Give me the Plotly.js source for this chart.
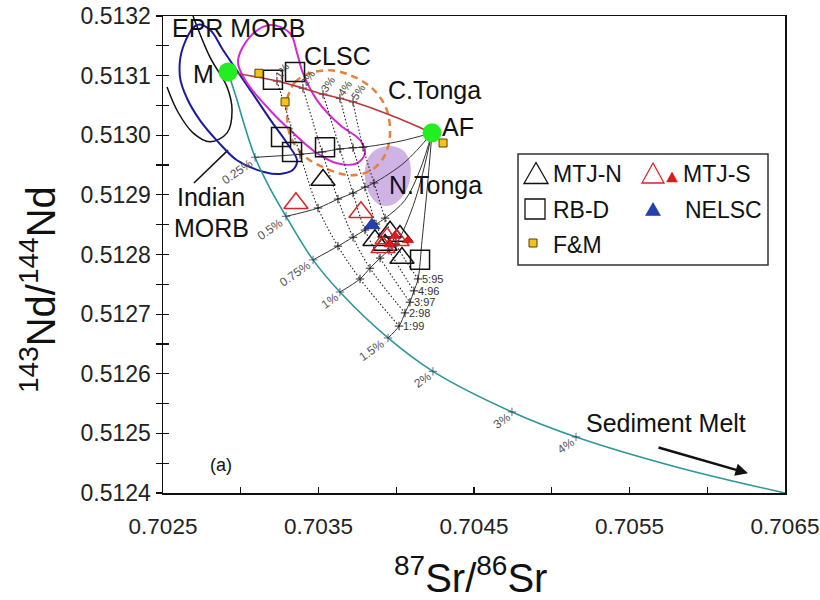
<!DOCTYPE html>
<html><head><meta charset="utf-8">
<script src="https://cdn.plot.ly/plotly-3.0.1.min.js"></script>
<style>body{margin:0;background:#fff}#chart{width:820px;height:600px}</style>
</head><body><div id="chart"></div>
<script>
// ---------------- data ----------------
const endMemberX = [0.702918, 0.704230];
const endMemberY = [0.513106, 0.513004];

// M + sediment melt mixing curve
const sedX = [0.702918, 0.702976, 0.703014, 0.703092, 0.703188, 0.703291, 0.703465, 0.703638, 0.703947, 0.704236, 0.704744, 0.705156, 0.705825, 0.7065];
const sedY = [0.513106, 0.513059, 0.513025, 0.512963, 0.512911, 0.512864, 0.512791, 0.512737, 0.512660, 0.512604, 0.512536, 0.512494, 0.512442, 0.5124];
const sedLabels = ['', '', '', '0.25%', '', '0.5%', '0.75%', '1%', '1.5%', '2%', '3%', '4%', '', ''];

// M - AF mixing line
const mafX = [0.702918, 0.703233, 0.703400, 0.703529, 0.703638, 0.703722, 0.703960, 0.704230];
const mafY = [0.513106, 0.513091, 0.513079, 0.513069, 0.513062, 0.513056, 0.513034, 0.513004];

// (M + x% melt) - AF mixing lines
const mix025X = [0.703092, 0.703381, 0.703523, 0.703638, 0.703722, 0.703786, 0.704024, 0.704230];
const mix025Y = [0.512963, 0.512968, 0.512972, 0.512977, 0.512979, 0.512980, 0.512990, 0.513004];
const mix05X = [0.703291, 0.703497, 0.703625, 0.703722, 0.703799, 0.703857, 0.704056, 0.704230];
const mix05Y = [0.512864, 0.512878, 0.512893, 0.512903, 0.512913, 0.512920, 0.512955, 0.513004];
const mix075X = [0.703465, 0.703625, 0.703722, 0.703799, 0.703870, 0.703928, 0.704056, 0.704153, 0.704230];
const mix075Y = [0.512791, 0.512814, 0.512829, 0.512841, 0.512851, 0.512861, 0.512891, 0.512942, 0.513004];
const mix1X = [0.703638, 0.703767, 0.703831, 0.703896, 0.703953, 0.703998, 0.704121, 0.704230];
const mix1Y = [0.512737, 0.512759, 0.512777, 0.512794, 0.512807, 0.512817, 0.512891, 0.513004];
const mix15X = [0.703947, 0.704018, 0.704056, 0.704088, 0.704114, 0.704140, 0.704166, 0.704198, 0.704230];
const mix15Y = [0.512660, 0.512680, 0.512702, 0.512720, 0.512739, 0.512759, 0.512824, 0.512908, 0.513004];

// constant-AF-fraction curves (1% .. 5%)
const af1X = [0.703233, 0.703381, 0.703497, 0.703625, 0.703767, 0.704018];
const af1Y = [0.513091, 0.512968, 0.512878, 0.512814, 0.512759, 0.512680];
const af2X = [0.703400, 0.703523, 0.703625, 0.703722, 0.703831, 0.704056];
const af2Y = [0.513079, 0.512972, 0.512893, 0.512829, 0.512777, 0.512702];
const af3X = [0.703529, 0.703638, 0.703722, 0.703799, 0.703896, 0.704088];
const af3Y = [0.513069, 0.512977, 0.512903, 0.512841, 0.512794, 0.512720];
const af4X = [0.703638, 0.703722, 0.703799, 0.703870, 0.703953, 0.704114];
const af4Y = [0.513062, 0.512979, 0.512913, 0.512851, 0.512807, 0.512739];
const af5X = [0.703722, 0.703786, 0.703857, 0.703928, 0.703998, 0.704140];
const af5Y = [0.513056, 0.512980, 0.512920, 0.512861, 0.512817, 0.512759];
const afTopLabels = ['1%', '2%', '3%', '4%', '5%'];
const ratioLabels = ['1:99', '2:98', '3:97', '4:96', '5:95'];

// samples
const mtjNX = [0.703529, 0.703863, 0.703960, 0.704024, 0.703928, 0.704037];
const mtjNY = [0.512925, 0.512824, 0.512838, 0.512831, 0.512816, 0.512794];
const mtjSOpenX = [0.703355, 0.703773, 0.703941, 0.703915, 0.704005];
const mtjSOpenY = [0.512886, 0.512871, 0.512827, 0.512812, 0.512824];
const mtjSFillX = [0.703992, 0.704076, 0.703960];
const mtjSFillY = [0.512831, 0.512824, 0.512817];
const nelscX = [0.703844];
const nelscY = [0.512849];
const rbdX = [0.703207, 0.703349, 0.703259, 0.703330, 0.703542, 0.704153];
const rbdY = [0.513093, 0.513106, 0.512997, 0.512972, 0.512980, 0.512791];
const fmX = [0.703117, 0.703285, 0.704301];
const fmY = [0.513104, 0.513056, 0.512987];

// fields
const eprX = [0.702629, 0.702719, 0.702802, 0.702886, 0.702995, 0.703105, 0.703201, 0.703297, 0.703362, 0.703336, 0.703252, 0.703156, 0.702976, 0.702854, 0.702738, 0.702654, 0.702609, 0.702629];
const eprY = [0.513148, 0.513185, 0.513177, 0.513143, 0.513101, 0.513059, 0.513022, 0.512987, 0.512958, 0.512942, 0.512935, 0.512938, 0.512958, 0.512989, 0.513025, 0.513062, 0.513098, 0.513148];
const indX = [0.702693, 0.702802, 0.702912, 0.702944, 0.702912, 0.702802, 0.702693, 0.702596, 0.702526];
const indY = [0.5132, 0.513131, 0.513081, 0.513042, 0.513004, 0.512989, 0.513004, 0.513039, 0.513081];
const indLeaderX = [0.702918, 0.702699];
const indLeaderY = [0.512975, 0.512920];
const clscX = [0.702982, 0.703059, 0.703188, 0.703317, 0.703362, 0.703400, 0.703490, 0.703638, 0.703767, 0.703799, 0.703748, 0.703619, 0.703490, 0.703336, 0.703188, 0.703040, 0.702982];
const clscY = [0.513123, 0.513165, 0.513185, 0.513171, 0.513138, 0.513104, 0.513059, 0.513017, 0.512992, 0.512970, 0.512953, 0.512953, 0.512970, 0.513004, 0.513042, 0.513088, 0.513123];
const ctongaX = [0.703297, 0.703349, 0.703445, 0.703574, 0.703703, 0.703844, 0.703934, 0.703960, 0.703928, 0.703844, 0.703703, 0.703542, 0.703400, 0.703317, 0.703297, 0.703297];
const ctongaY = [0.513059, 0.513089, 0.513104, 0.513109, 0.513101, 0.513079, 0.513046, 0.513004, 0.512967, 0.512942, 0.512933, 0.512945, 0.512967, 0.513000, 0.513034, 0.513059];
const ntongaX = [0.703812, 0.703863, 0.703960, 0.704043, 0.704088, 0.704088, 0.704043, 0.703973, 0.703896, 0.703831, 0.703799, 0.703812];
const ntongaY = [0.512958, 0.512975, 0.512982, 0.512975, 0.512955, 0.512925, 0.512898, 0.512883, 0.512883, 0.512900, 0.512928, 0.512958];

// ---------------- helpers ----------------
const FONT = 'Liberation Sans, Arial, Helvetica, sans-serif';
const L = 163, R = 785, T = 16, B = 493;
const PX = px => (px - L) / (R - L);
const PY = py => (B - py) / (B - T);

function line(x, y, color, width, dash, shape) {
  return {x, y, mode: 'lines', type: 'scatter', hoverinfo: 'skip', showlegend: false,
    line: {color, width, dash: dash || 'solid', shape: shape || 'linear', smoothing: 1}};
}
function pts(x, y, symbol, size, color, lineColor, lw) {
  return {x, y, mode: 'markers', type: 'scatter', hoverinfo: 'skip', showlegend: false,
    marker: {symbol, size, color, line: {color: lineColor, width: lw}}};
}

const traces = [];
traces.push({x: ntongaX, y: ntongaY, mode: 'lines', fill: 'toself', fillcolor: 'rgba(196,160,222,0.8)',
  line: {width: 0, shape: 'spline', smoothing: 1, color: 'rgba(0,0,0,0)'}, hoverinfo: 'skip', showlegend: false});
traces.push(line(indX, indY, '#111', 1.5, 'solid', 'spline'));
traces.push(line(indLeaderX, indLeaderY, '#111', 1.5));
traces.push(line(eprX, eprY, '#1c1c9a', 2, 'solid', 'spline'));
traces.push(line(clscX, clscY, '#d22ad2', 2, 'solid', 'spline'));
traces.push(line(ctongaX, ctongaY, '#e8803a', 2.5, '7px,5px', 'spline'));

[[mix025X, mix025Y], [mix05X, mix05Y], [mix075X, mix075Y], [mix1X, mix1Y], [mix15X, mix15Y]].forEach(([x, y]) => {
  traces.push(line(x, y, '#333', 1, 'solid', 'spline'));
});
[[af1X, af1Y], [af2X, af2Y], [af3X, af3Y], [af4X, af4Y], [af5X, af5Y]].forEach(([x, y]) => {
  const t = line(x, y, '#222', 1.1, '1.5px,2px', 'spline');
  t.mode = 'lines+markers';
  t.marker = {symbol: 'cross-thin', size: 6, line: {color: '#222', width: 1}};
  traces.push(t);
});
traces.push(line(mafX, mafY, '#b8393c', 1.6, 'solid', 'spline'));
traces.push(line(sedX, sedY, '#2e9696', 1.6, 'solid', 'spline'));
traces.push({x: sedX, y: sedY, mode: 'markers', type: 'scatter', hoverinfo: 'skip', showlegend: false,
  marker: {symbol: 'cross-thin', size: sedLabels.map(s => s ? 6 : 0), line: {color: '#235', width: 1}}});

traces.push(pts(rbdX, rbdY, 'square-open', 19, '#111', '#111', 1.5));
traces.push(pts(mtjNX, mtjNY, 'triangle-up-open', 21, '#111', '#111', 1.5));
traces.push(pts(mtjSOpenX, mtjSOpenY, 'triangle-up-open', 21, '#d6262a', '#d6262a', 1.5));
traces.push(pts(mtjSFillX, mtjSFillY, 'triangle-up', 10, '#e01818', '#a00', 0.5));
traces.push(pts(nelscX, nelscY, 'triangle-up', 14, '#2540b0', '#1a2a80', 0.8));
traces.push(pts(fmX, fmY, 'square', 8, '#f3c21c', '#5a4000', 1));
traces.push(pts(endMemberX, endMemberY, 'circle', 19, '#22ee22', '#22ee22', 0));
traces.push({x: [0.703], y: [0.5128], yaxis: 'y2', mode: 'markers', marker: {opacity: 0}, hoverinfo: 'skip', showlegend: false});

// ---------------- annotations ----------------
const ann = [];
function txt(text, px, py, size, extra) {
  ann.push(Object.assign({text, x: PX(px), y: PY(py), xref: 'paper', yref: 'paper', showarrow: false,
    xanchor: 'center', yanchor: 'middle', font: {family: FONT, size, color: '#111'}}, extra || {}));
}
txt('EPR MORB', 238, 28, 25);
txt('M', 203, 74, 25);
txt('CLSC', 337, 56, 25);
txt('C.Tonga', 434, 90, 25);
txt('AF', 458, 127, 25);
txt('N.Tonga', 435, 185, 25);
txt('Indian', 211, 197, 25);
txt('MORB', 211, 228, 25);
txt('(a)', 221, 465, 18);
txt('Sediment Melt', 666, 423, 25);

sedX.forEach((x, i) => {
  const s = sedLabels[i];
  if (!s) return;
  const w = s.length * 6.5;
  ann.push({text: s, x, y: sedY[i], xref: 'x', yref: 'y', showarrow: false, textangle: -35,
    xshift: -(5 + w / 2 * 0.82), yshift: -(5 + w / 2 * 0.57),
    font: {family: FONT, size: 12, color: '#555'}});
});
[af1X, af2X, af3X, af4X, af5X].forEach((xs, i) => {
  const ys = [af1Y, af2Y, af3Y, af4Y, af5Y][i];
  ann.push({text: afTopLabels[i], x: xs[0], y: ys[0], xref: 'x', yref: 'y', showarrow: false, textangle: -55,
    xshift: 5, yshift: 10, font: {family: FONT, size: 11, color: '#444'}});
  ann.push({text: ratioLabels[i], x: xs[xs.length - 1], y: ys[ys.length - 1], xref: 'x', yref: 'y', showarrow: false,
    xanchor: 'left', xshift: 2, font: {family: FONT, size: 11, color: '#333'}});
});
ann.push({x: 0.706262, y: 0.512433, ax: 0.705677, ay: 0.512477, xref: 'x', yref: 'y', axref: 'x', ayref: 'y',
  text: '', showarrow: true, arrowhead: 2, arrowsize: 1, arrowwidth: 2.5, arrowcolor: '#111'});

ann.push({text: '<sup>143</sup>Nd/<sup>144</sup>Nd', x: PX(38), y: PY(290), xref: 'paper', yref: 'paper',
  showarrow: false, textangle: -90, xanchor: 'center', yanchor: 'middle', font: {family: FONT, size: 40, color: '#111'}});
ann.push({text: '<sup>87</sup>Sr/<sup>86</sup>Sr', x: PX(470), y: PY(575), xref: 'paper', yref: 'paper',
  showarrow: false, xanchor: 'center', yanchor: 'middle', font: {family: FONT, size: 40, color: '#111'}});

// legend (drawn)
const shapes = [];
shapes.push({type: 'rect', xref: 'paper', yref: 'paper', x0: PX(518), x1: PX(768), y0: PY(265), y1: PY(154),
  line: {color: '#333', width: 1.5}, fillcolor: '#fff', layer: 'above'});
function tri(cx, cy, w, h, lc, fc, lw) {
  shapes.push({type: 'path', xref: 'paper', yref: 'paper', layer: 'above',
    path: `M ${PX(cx - w / 2)} ${PY(cy + h / 2)} L ${PX(cx + w / 2)} ${PY(cy + h / 2)} L ${PX(cx)} ${PY(cy - h / 2)} Z`,
    line: {color: lc, width: lw}, fillcolor: fc});
}
function sq(cx, cy, s, lc, fc, lw) {
  shapes.push({type: 'rect', xref: 'paper', yref: 'paper', layer: 'above',
    x0: PX(cx - s / 2), x1: PX(cx + s / 2), y0: PY(cy + s / 2), y1: PY(cy - s / 2),
    line: {color: lc, width: lw}, fillcolor: fc});
}
tri(536, 173, 24, 21, '#111', 'rgba(0,0,0,0)', 1.3);
tri(653, 173, 22, 20, '#d6262a', 'rgba(0,0,0,0)', 1.3);
tri(672, 177, 11, 10, '#e01818', '#e01818', 0.5);
sq(535, 209, 20, '#111', 'rgba(0,0,0,0)', 1.3);
tri(653, 209, 15, 13, '#1a2a80', '#2540b0', 0.5);
sq(533, 243, 8, '#5a4000', '#f3c21c', 1);
function ltxt(text, px, py) {
  ann.push({text, x: PX(px), y: PY(py), xref: 'paper', yref: 'paper', showarrow: false,
    xanchor: 'left', yanchor: 'middle', font: {family: FONT, size: 23, color: '#111'}});
}
ltxt('MTJ-N', 551, 174);
ltxt('MTJ-S', 681, 174);
ltxt('RB-D', 551, 210);
ltxt('NELSC', 683, 210);
ltxt('F&amp;M', 551, 245);

const tickFont = {family: FONT, size: 23, color: '#222'};
const xTickFont = {family: FONT, size: 22.5, color: '#222'};
const layout = {
  width: 820, height: 600,
  margin: {l: L, r: 820 - R, t: T, b: 600 - B},
  paper_bgcolor: '#fff', plot_bgcolor: '#fff',
  showlegend: false,
  xaxis: {range: [0.7025, 0.7065], tick0: 0.7025, dtick: 0.001, tickformat: '.4f', ticks: 'inside', ticklen: 6,
    tickcolor: '#111', tickwidth: 1.2, showgrid: false, zeroline: false, showline: true, mirror: true,
    linecolor: '#111', linewidth: 1.5, tickfont: xTickFont, ticklabelstandoff: 12, ticklabeloverflow: 'allow',
    minor: {tick0: 0.7025, dtick: 0.0005, ticks: 'inside', ticklen: 6, tickcolor: '#111', tickwidth: 1.2, showgrid: false}},
  yaxis: {range: [0.5124, 0.5132], tick0: 0.5124, dtick: 0.0001, tickformat: '.4f', ticks: 'outside', ticklen: 6,
    tickcolor: '#111', tickwidth: 1.2, showgrid: false, zeroline: false, showline: true, mirror: true,
    linecolor: '#111', linewidth: 1.5, tickfont: tickFont, ticklabeloverflow: 'allow',
    minor: {tick0: 0.5124, dtick: 0.00005, ticks: 'outside', ticklen: 6, tickcolor: '#111', tickwidth: 1.2, showgrid: false}},
  yaxis2: {overlaying: 'y', range: [0.5124, 0.5132], tick0: 0.5124, dtick: 0.0001, ticks: 'inside', ticklen: 6,
    tickcolor: '#111', tickwidth: 1.2, showticklabels: false, showgrid: false, zeroline: false, showline: false,
    minor: {tick0: 0.5124, dtick: 0.00005, ticks: 'inside', ticklen: 6, tickcolor: '#111', tickwidth: 1.2, showgrid: false}},
  annotations: ann,
  shapes: shapes
};
Plotly.newPlot('chart', traces, layout, {staticPlot: true});
</script></body></html>
